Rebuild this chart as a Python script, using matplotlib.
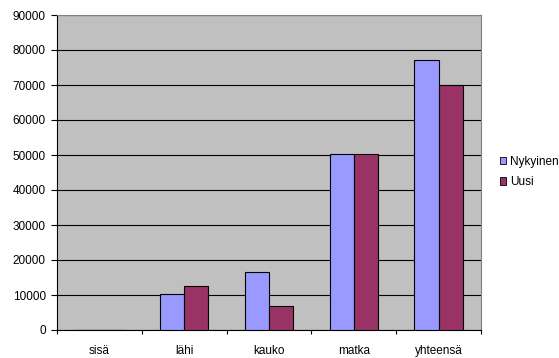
import matplotlib
matplotlib.use("Agg")
import matplotlib.pyplot as plt
from matplotlib.patches import Patch
import numpy as np

categories = ["sisä", "lähi", "kauko", "matka", "yhteensä"]
nykyinen = [0, 10200, 16700, 50300, 77200]
uusi = [0, 12600, 6800, 50300, 69900]
series_names = ["Nykyinen", "Uusi"]
colors = ["#9999FF", "#993366"]
yticks = list(range(0, 90001, 10000))

plt.rcParams['font.family'] = ['Liberation Sans', 'DejaVu Sans']

fig = plt.figure(figsize=(5.59, 3.58), dpi=100)
ax = fig.add_axes([57/559, 1 - 330/358, (481-57)/559, (330-15)/358])
ax.set_facecolor("#C0C0C0")

x = np.arange(len(categories))
w = 1 / 3.5
ax.bar(x - w/2, nykyinen, width=w, color=colors[0], edgecolor="black", linewidth=0.8, zorder=3)
ax.bar(x + w/2, uusi, width=w, color=colors[1], edgecolor="black", linewidth=0.8, zorder=3)

ax.set_xlim(-0.5, len(categories) - 0.5)
ax.set_ylim(0, 90000)
ax.set_yticks(yticks)
ax.set_yticklabels([str(v) for v in yticks])
ax.yaxis.grid(True, color="black", linewidth=0.8, zorder=1)
ax.set_axisbelow(True)

ax.set_xticks(np.arange(-0.5, len(categories) + 0.5, 1.0))
ax.set_xticklabels([])
ax.set_xticks(x, minor=True)
ax.set_xticklabels(categories, minor=True)
ax.tick_params(axis="x", which="minor", length=0, pad=11, labelsize=8.5)
ax.tick_params(axis="x", which="major", length=3, width=0.8, direction="out")
ax.tick_params(axis="y", length=4, width=0.8, pad=4, labelsize=8.5)

for s in ["top", "right"]:
    ax.spines[s].set_color("#808080")
    ax.spines[s].set_linewidth(0.8)
for s in ["left", "bottom"]:
    ax.spines[s].set_color("black")
    ax.spines[s].set_linewidth(0.8)

handles = [Patch(facecolor=c, edgecolor="black", linewidth=0.6) for c in colors]
fig.legend(handles, series_names, loc="center left", bbox_to_anchor=(495/559, 1 - 172/358),
           frameon=False, fontsize=8.5, handlelength=0.55, handleheight=0.55,
           handletextpad=0.35, labelspacing=0.7, borderaxespad=0)

fig.savefig("out.png", dpi=100)
